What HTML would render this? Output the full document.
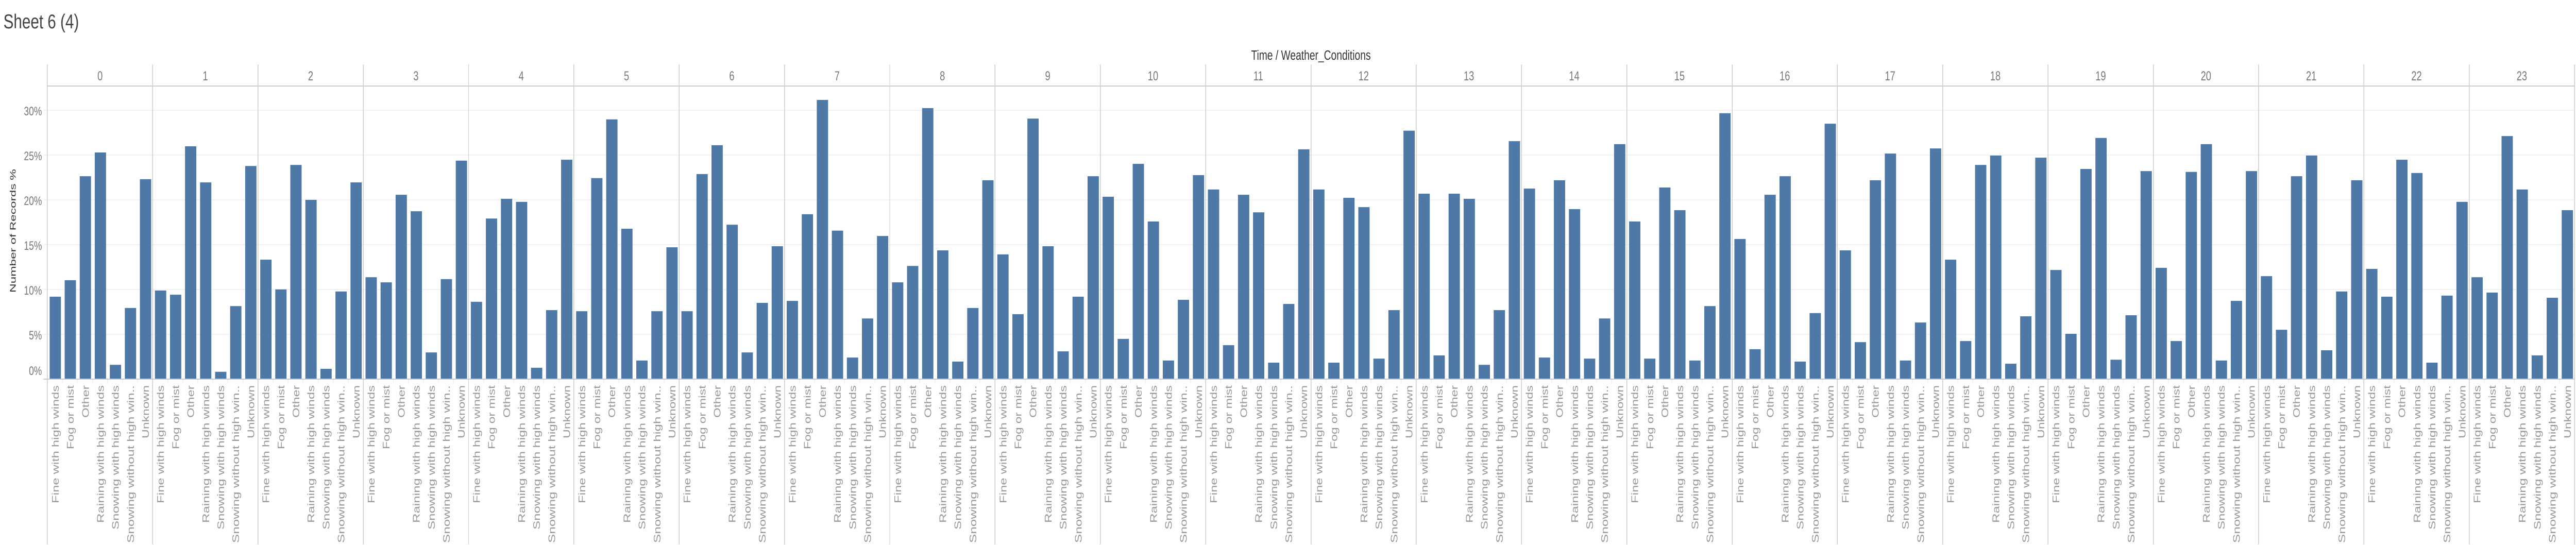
<!DOCTYPE html>
<html lang="en">
<head>
<meta charset="utf-8">
<title>Sheet 6 (4)</title>
<style>
  html, body { margin: 0; padding: 0; background: #fff; width: 100%; height: 100%; overflow: hidden; }
  svg { display: block; width: 100vw; height: 100vh; }
  text { font-family: "Liberation Sans", "DejaVu Sans", sans-serif; }
</style>
</head>
<body>
<svg id="chart" xmlns="http://www.w3.org/2000/svg" viewBox="0 0 6850 1058" preserveAspectRatio="none">
  <text x="9" y="55" font-size="39" fill="#444" textLength="201" lengthAdjust="spacingAndGlyphs">Sheet 6 (4)</text>
  <text x="3486" y="116" font-size="26" fill="#333" text-anchor="middle" textLength="318" lengthAdjust="spacingAndGlyphs">Time / Weather_Conditions</text>
  <text transform="translate(42,448) rotate(-90)" font-size="22" fill="#333" text-anchor="middle" textLength="240" lengthAdjust="spacingAndGlyphs">Number of Records %</text>
</svg>
<script>
// ---- chart data ----
const hourLabels = ["0","1","2","3","4","5","6","7","8","9","10","11","12","13","14","15","16","17","18","19","20","21","22","23"];
const conditionLabels = ["Fine with high winds","Fog or mist","Other","Raining with high winds","Snowing with high winds","Snowing without high win..","Unknown"];
const yTickValues = [0,5,10,15,20,25,30];

const recordsHour0  = [9.17,11.01,22.61,25.26,1.57,7.91,22.28];
const recordsHour1  = [9.86,9.39,25.95,21.92,0.79,8.12,23.75];
const recordsHour2  = [13.30,9.98,23.87,19.97,1.12,9.75,21.92];
const recordsHour3  = [11.34,10.77,20.54,18.70,2.95,11.13,24.35];
const recordsHour4  = [8.60,17.89,20.09,19.75,1.24,7.67,24.45];
const recordsHour5  = [7.55,22.40,28.95,16.75,2.05,7.55,14.68];
const recordsHour6  = [7.55,22.85,26.07,17.20,2.95,8.48,14.80];
const recordsHour7  = [8.70,18.37,31.12,16.54,2.38,6.74,15.94];
const recordsHour8  = [10.77,12.60,30.21,14.34,1.93,7.91,22.16];
const recordsHour9  = [13.89,7.22,29.04,14.80,3.07,9.17,22.61];
const recordsHour10 = [20.32,4.46,23.99,17.56,2.05,8.82,22.73];
const recordsHour11 = [21.13,3.76,20.54,18.58,1.81,8.36,25.61];
const recordsHour12 = [21.13,1.81,20.20,19.16,2.26,7.67,27.69];
const recordsHour13 = [20.66,2.62,20.66,20.09,1.57,7.67,26.52];
const recordsHour14 = [21.23,2.38,22.16,18.94,2.26,6.74,26.19];
const recordsHour15 = [17.56,2.26,21.35,18.82,2.05,8.12,29.64];
const recordsHour16 = [15.61,3.31,20.54,22.61,1.93,7.34,28.47];
const recordsHour17 = [14.34,4.10,22.16,25.14,2.05,6.29,25.71];
const recordsHour18 = [13.30,4.22,23.87,24.92,1.69,6.98,24.68];
const recordsHour19 = [12.15,5.03,23.42,26.88,2.14,7.10,23.18];
const recordsHour20 = [12.39,4.22,23.09,26.19,2.05,8.70,23.18];
const recordsHour21 = [11.46,5.48,22.61,24.92,3.19,9.75,22.16];
const recordsHour22 = [12.27,9.17,24.45,22.97,1.81,9.29,19.75];
const recordsHour23 = [11.34,9.63,27.09,21.13,2.62,9.05,18.82];

const recordsByHour = [recordsHour0,recordsHour1,recordsHour2,recordsHour3,recordsHour4,recordsHour5,recordsHour6,recordsHour7,recordsHour8,recordsHour9,recordsHour10,recordsHour11,recordsHour12,recordsHour13,recordsHour14,recordsHour15,recordsHour16,recordsHour17,recordsHour18,recordsHour19,recordsHour20,recordsHour21,recordsHour22,recordsHour23];

// ---- layout ----
const SVG_NS = "http://www.w3.org/2000/svg";
const svg = document.getElementById("chart");
const plotLeft = 126, panelWidth = 280, bandWidth = 40, barInset = 6, barWidth = 30;
const plotRight = plotLeft + panelWidth * hourLabels.length;
const zeroY = 735.5, pxPerPercent = 17.4;
const labelPixelLengths = { "Fine with high winds": 229, "Fog or mist": 124, "Other": 63, "Raining with high winds": 267, "Snowing with high winds": 280, "Snowing without high win..": 306, "Unknown": 103 };

function panelX(hourIndex) { return plotLeft + panelWidth * hourIndex; }
function bandX(hourIndex, conditionIndex) { return panelX(hourIndex) + bandWidth * conditionIndex; }
function yScale(value) { return zeroY - value * pxPerPercent; }

function make(tag, attrs, text) {
  const el = document.createElementNS(SVG_NS, tag);
  for (const key in attrs) { el.setAttribute(key, attrs[key]); }
  if (text !== undefined) { el.textContent = text; }
  svg.appendChild(el);
  return el;
}

// gridlines and y tick labels
yTickValues.forEach(function (tick) {
  const gy = yScale(tick);
  if (tick !== 0) {
    const grid = make("rect", { x: 116, y: Math.round(gy - 1), width: plotRight - 116, height: 2, fill: "#f2f2f2", "shape-rendering": "crispEdges" });
    
    
  }
  const baseline = tick === 0 ? 728 : gy + 10.5;
  const label = make("text", { x: 111.5, y: baseline, "font-size": 24, fill: "#777", "text-anchor": "end" }, tick + "%");
  
  
});

// bars
recordsByHour.forEach(function (values, h) {
  values.forEach(function (value, c) {
    const top = yScale(value);
    const bar = make("rect", { x: bandX(h, c) + barInset, y: top, width: barWidth, height: 735 - top, fill: "#4e79a7" });
    
    
  });
});

// x axis ticks and condition labels
hourLabels.forEach(function (hour, h) {
  conditionLabels.forEach(function (condition, c) {
    if (c > 0) {
      const tick = make("rect", { x: bandX(h, c) - 1, y: 737, width: 2, height: 8, fill: "#eeeeee", "shape-rendering": "crispEdges" });
      
      
    }
    const lx = bandX(h, c) + 30;
    const label = make("text", { transform: "translate(" + lx + ",748) rotate(-90)", "font-size": 25, fill: "#999", "text-anchor": "end", textLength: labelPixelLengths[condition], lengthAdjust: "spacingAndGlyphs" }, condition);
    
    
  });
  const header = make("text", { x: panelX(h) + 140, y: 156, "font-size": 25, fill: "#777", "text-anchor": "middle" }, hour);
  
  
});

// panel dividers
for (let i = 0; i <= hourLabels.length; i++) {
  const divider = make("rect", { x: panelX(i) - 1, y: 125, width: 2, height: 932, fill: "#cdcdcd", "shape-rendering": "crispEdges" });
  
  
}

// header rule and x axis baseline
const headerRule = make("rect", { x: plotLeft - 1, y: 166, width: plotRight - plotLeft + 2, height: 2, fill: "#cdcdcd", "shape-rendering": "crispEdges" });



const baselineRule = make("rect", { x: 116, y: 735, width: plotRight - 116 + 1, height: 2, fill: "#cccccc", "shape-rendering": "crispEdges" });


</script>
</body>
</html>
